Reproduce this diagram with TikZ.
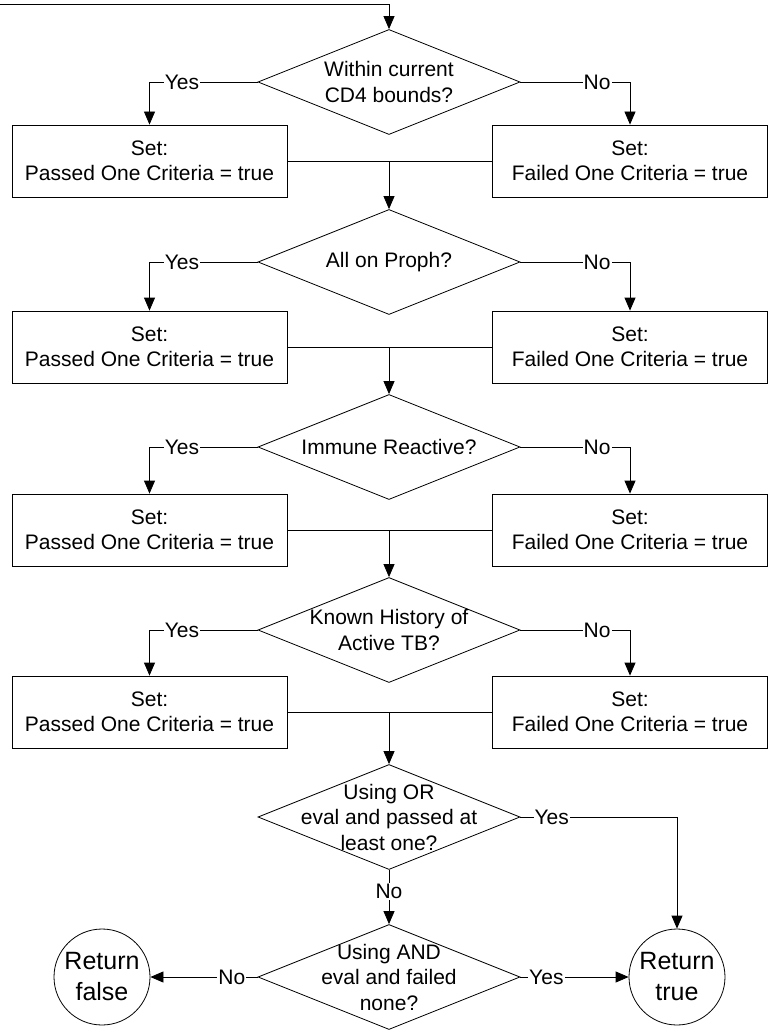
\documentclass[tikz,border=0pt]{standalone}
\usepackage{fontspec}
\setmainfont{Liberation Sans}
\usetikzlibrary{shapes.geometric,arrows.meta}
\tikzset{
  every node/.style={font=\fontsize{21}{25.5}\selectfont},
  box/.style={draw, rectangle, minimum width=275pt, minimum height=72pt, align=center, inner sep=0pt},
  dec/.style={draw, diamond, minimum width=262pt, minimum height=105pt, inner sep=0pt},
  dtext/.style={align=center, inner sep=0pt},
  term/.style={draw, circle, minimum size=96pt, align=center, inner sep=0pt, font=\fontsize{25}{31}\selectfont},
  lab/.style={fill=white, inner sep=1pt},
  arr/.style={-{Triangle[length=13pt,width=11pt]}},
}
\begin{document}
\begin{tikzpicture}[x=1pt,y=-1pt,line width=0.8pt]
\useasboundingbox (0,0) rectangle (778,1030);
\coordinate (start) at (0,4);
% row 1
\node[dec] (d1) at (389,82) {};
\node[dtext] (d1t) at (d1) {Within current\\CD4 bounds?};
\node[box] (b1l) at (149.5,161) {Set:\\Passed One Criteria = true};
\node[box] (b1r) at (630,161) {Set:\\Failed One Criteria = true};
% row 2
\node[dec] (d2) at (389,262) {};
\node[dtext] (d2t) at (d2) {All on Proph?};
\node[box] (b2l) at (149.5,347) {Set:\\Passed One Criteria = true};
\node[box] (b2r) at (630,347) {Set:\\Failed One Criteria = true};
% row 3
\node[dec] (d3) at (389,447) {};
\node[dtext] (d3t) at (d3) {Immune Reactive?};
\node[box] (b3l) at (149.5,530) {Set:\\Passed One Criteria = true};
\node[box] (b3r) at (630,530) {Set:\\Failed One Criteria = true};
% row 4
\node[dec] (d4) at (389,630) {};
\node[dtext] (d4t) at (d4) {Known History of\\Active TB?};
\node[box] (b4l) at (149.5,712) {Set:\\Passed One Criteria = true};
\node[box] (b4r) at (630,712) {Set:\\Failed One Criteria = true};
% final decisions
\node[dec] (d5) at (389,817) {};
\node[dtext] (d5t) at (d5) {Using OR\\eval and passed at\\least one?};
\node[dec] (d6) at (389,977) {};
\node[dtext] (d6t) at (d6) {Using AND\\eval and failed\\none?};
\node[term] (rf) at (102,977) {Return\\false};
\node[term] (rt) at (677,977) {Return\\true};
% junctions
\coordinate (j1) at (d1.south |- b1l.east);
\coordinate (j2) at (d2.south |- b2l.east);
\coordinate (j3) at (d3.south |- b3l.east);
\coordinate (j4) at (d4.south |- b4l.east);
% connectors
\draw[arr] (start) -| (d1.north);
\foreach \i in {1,2,3,4}{
  \draw[arr] (d\i.west) -| node[lab,pos=0.35]{Yes} (b\i l.north);
  \draw[arr] (d\i.east) -| node[lab,pos=0.35]{No} (b\i r.north);
  \draw (b\i l.east) -- (b\i r.west);
}
\draw[arr] (j1) -- (d2.north);
\draw[arr] (j2) -- (d3.north);
\draw[arr] (j3) -- (d4.north);
\draw[arr] (j4) -- (d5.north);
\draw[arr] (d5.east) -| node[lab,pos=0.1]{Yes} (rt.north);
\draw[arr] (d5.south) -- node[lab,pos=0.4]{No} (d6.north);
\draw[arr] (d6.west) -- node[lab,pos=0.24]{No} (rf.east);
\draw[arr] (d6.east) -- node[lab,pos=0.24]{Yes} (rt.west);
\end{tikzpicture}
\end{document}
